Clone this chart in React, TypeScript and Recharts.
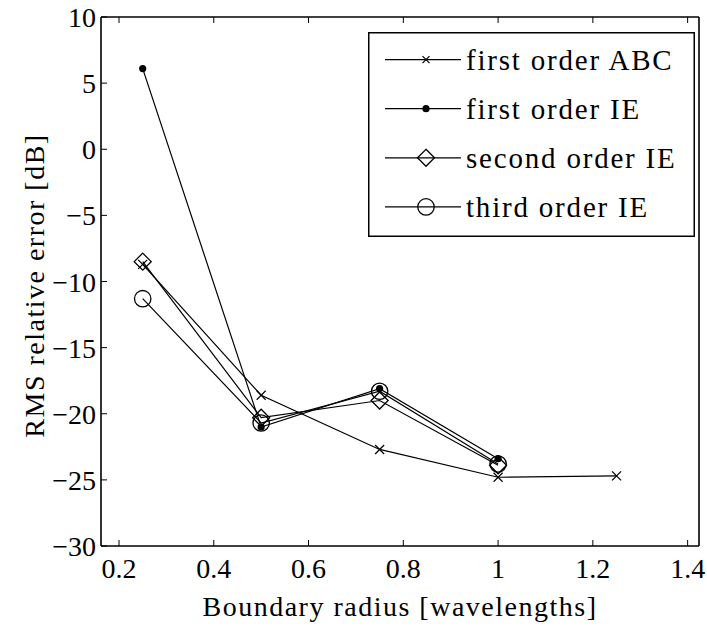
import React from 'react'
import { LineChart, Line, XAxis, YAxis, Legend } from 'recharts'

// boundary radius in wavelengths
const radiusABC = [0.25, 0.5, 0.75, 1.0, 1.25]
const radiusIE = [0.25, 0.5, 0.75, 1.0]

// RMS relative error in dB
const firstOrderABC = [-8.7, -18.6, -22.7, -24.8, -24.7]
const firstOrderIE = [6.1, -21.0, -18.1, -23.4]
const secondOrderIE = [-8.5, -20.3, -19.0, -23.9]
const thirdOrderIE = [-11.3, -20.7, -18.3, -23.8]

const xTicks = [0.2, 0.4, 0.6, 0.8, 1, 1.2, 1.4]
const yTicks = [-30, -25, -20, -15, -10, -5, 0, 5, 10]

type MarkerKind = 'cross' | 'dot' | 'diamond' | 'circle'

const toPoints = (xs: number[], ys: number[]) => xs.map((x, i) => ({ x, y: ys[i] }))

const series: { name: string; marker: MarkerKind; data: { x: number; y: number }[] }[] = [
  { name: 'first order ABC', marker: 'cross', data: toPoints(radiusABC, firstOrderABC) },
  { name: 'first order IE', marker: 'dot', data: toPoints(radiusIE, firstOrderIE) },
  { name: 'second order IE', marker: 'diamond', data: toPoints(radiusIE, secondOrderIE) },
  { name: 'third order IE', marker: 'circle', data: toPoints(radiusIE, thirdOrderIE) },
]

const FONT = '"Liberation Serif", "Times New Roman", serif'
const ink = '#000'

const fmt = (v: number) => (v < 0 ? '\u2212' + Math.abs(v) : String(v))

function Marker({ kind, cx, cy, small = false }: { kind: MarkerKind; cx: number; cy: number; small?: boolean }) {
  if (kind === 'cross') {
    const h = small ? 3.5 : 4.5
    return (
      <g stroke={ink} strokeWidth={1.2}>
        <line x1={cx - h} y1={cy - h} x2={cx + h} y2={cy + h} />
        <line x1={cx - h} y1={cy + h} x2={cx + h} y2={cy - h} />
      </g>
    )
  }
  if (kind === 'dot') return <circle cx={cx} cy={cy} r={3.6} fill={ink} />
  if (kind === 'diamond') {
    const h = 8.5
    return (
      <path
        d={`M${cx},${cy - h} L${cx + h},${cy} L${cx},${cy + h} L${cx - h},${cy} Z`}
        fill="none"
        stroke={ink}
        strokeWidth={1.3}
      />
    )
  }
  return <circle cx={cx} cy={cy} r={8.2} fill="none" stroke={ink} strokeWidth={1.3} />
}

// ticks point inward, like a boxed plot
const BottomTick = ({ x, y, payload }: any) => (
  <g>
    <line x1={x} x2={x} y1={y} y2={y - 6} stroke={ink} strokeWidth={1} />
    <text x={x} y={y + 32} textAnchor="middle" fontFamily={FONT} fontSize={28} fill={ink}>
      {fmt(payload.value)}
    </text>
  </g>
)

const LeftTick = ({ x, y, payload }: any) => (
  <g>
    <line x1={x} x2={x + 6} y1={y} y2={y} stroke={ink} strokeWidth={1} />
    <text x={x - 5} y={y + 10} textAnchor="end" fontFamily={FONT} fontSize={28} fill={ink}>
      {fmt(payload.value)}
    </text>
  </g>
)

const TopTick = ({ x, y }: any) => <line x1={x} x2={x} y1={y} y2={y + 6} stroke={ink} strokeWidth={1} />
const RightTick = ({ x, y }: any) => <line x1={x} x2={x - 6} y1={y} y2={y} stroke={ink} strokeWidth={1} />

const LegendBox = () => (
  <svg width={327} height={205} style={{ display: 'block' }}>
    <rect x={0.75} y={0.75} width={325.5} height={203.5} fill="#fff" stroke={ink} strokeWidth={1.5} />
    {series.map((s, i) => {
      const cy = 27.6 + i * 49.1
      return (
        <g key={s.name}>
          <line x1={17} x2={93} y1={cy} y2={cy} stroke={ink} strokeWidth={1.2} />
          <Marker kind={s.marker} cx={58} cy={cy} small />
          <text x={98} y={cy + 10} fontFamily={FONT} fontSize={29} letterSpacing={1.8} fill={ink}>
            {s.name}
          </text>
        </g>
      )
    })}
  </svg>
)

export default function App() {
  const axisLine = { stroke: ink, strokeWidth: 1.6 }
  return (
    <div style={{ position: 'absolute', left: 0, top: 0, width: 707, height: 626, background: '#fff' }}>
      <LineChart width={707} height={626} margin={{ top: 16, right: 7, bottom: 79, left: 100 }}>
        <XAxis
          dataKey="x"
          type="number"
          domain={[0.162, 1.424]}
          ticks={xTicks}
          interval={0}
          allowDataOverflow
          height={1}
          tickSize={0}
          tickMargin={0}
          tickLine={false}
          axisLine={axisLine}
          tick={<BottomTick />}
          label={{
            content: ({ viewBox }: any) => (
              <text
                x={viewBox.x + viewBox.width / 2}
                y={616}
                textAnchor="middle"
                fontFamily={FONT}
                fontSize={28}
                letterSpacing={1.5}
                fill={ink}
              >
                Boundary radius [wavelengths]
              </text>
            ),
          }}
        />
        <XAxis
          xAxisId="top"
          orientation="top"
          dataKey="x"
          type="number"
          domain={[0.162, 1.424]}
          ticks={xTicks}
          interval={0}
          allowDataOverflow
          height={1}
          tickSize={0}
          tickMargin={0}
          tickLine={false}
          axisLine={axisLine}
          tick={<TopTick />}
        />
        <YAxis
          type="number"
          domain={[-30, 10]}
          ticks={yTicks}
          interval={0}
          allowDataOverflow
          width={1}
          tickSize={0}
          tickMargin={0}
          tickLine={false}
          axisLine={axisLine}
          tick={<LeftTick />}
          label={{
            content: ({ viewBox }: any) => {
              const cy = viewBox.y + viewBox.height / 2 + 4
              return (
                <text
                  x={34}
                  y={cy}
                  transform={`rotate(-90, 34, ${cy})`}
                  textAnchor="middle"
                  dominantBaseline="central"
                  fontFamily={FONT}
                  fontSize={28}
                  letterSpacing={1.5}
                  fill={ink}
                >
                  RMS relative error [dB]
                </text>
              )
            },
          }}
        />
        <YAxis
          yAxisId="right"
          orientation="right"
          type="number"
          domain={[-30, 10]}
          ticks={yTicks}
          interval={0}
          width={1}
          tickSize={0}
          tickMargin={0}
          tickLine={false}
          axisLine={axisLine}
          tick={<RightTick />}
        />
        {series.map((s) => (
          <Line
            key={s.name}
            name={s.name}
            data={s.data}
            dataKey="y"
            stroke={ink}
            strokeWidth={1.2}
            isAnimationActive={false}
            legendType="line"
            dot={(p: any) => <Marker key={`${s.name}-${p.index}`} kind={s.marker} cx={p.cx} cy={p.cy} />}
            activeDot={false}
          />
        ))}
        <Legend
          layout="vertical"
          align="center"
          verticalAlign="middle"
          content={<LegendBox />}
          wrapperStyle={{ position: 'absolute', left: 368, top: 32, width: 327, height: 205 }}
        />
      </LineChart>
    </div>
  )
}
